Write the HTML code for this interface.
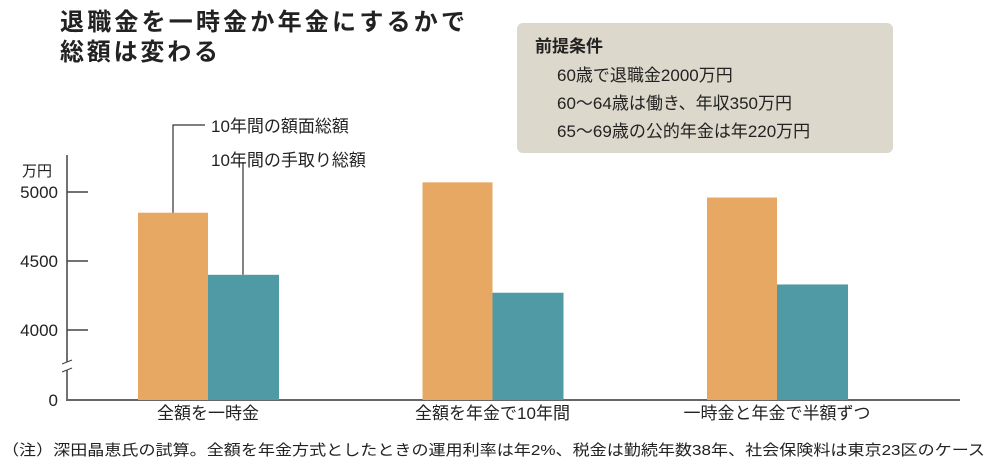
<!DOCTYPE html>
<html><head><meta charset="utf-8"><style>
html,body{margin:0;padding:0;background:#fff}
svg{display:block;font-family:"Liberation Sans","Noto Sans CJK JP",sans-serif}
</style></head><body>
<svg id="chart" width="1000" height="467" viewBox="0 0 1000 467">
<text x="60" y="30" font-size="24" font-weight="bold" fill="#222" textLength="405">退職金を一時金か年金にするかで</text>
<text x="60" y="60" font-size="24" font-weight="bold" fill="#222" textLength="158">総額は変わる</text>
<g>
<rect x="517" y="23" width="376" height="130" rx="6" fill="#ddd8cc"/>
<text x="535" y="52" font-size="17" font-weight="bold" fill="#222">前提条件</text>
<text x="557" y="81" font-size="17" fill="#222">60歳で退職金2000万円</text>
<text x="557" y="109" font-size="17" fill="#222">60～64歳は働き、年収350万円</text>
<text x="557" y="137" font-size="17" fill="#222">65～69歳の公的年金は年220万円</text>
</g>
<g id="axis"></g>
<g id="bars"></g>
<g id="legend"></g>
<text x="2" y="455" font-size="15" fill="#222" textLength="983" lengthAdjust="spacingAndGlyphs">（注）深田晶恵氏の試算。全額を年金方式としたときの運用利率は年2%、税金は勤続年数38年、社会保険料は東京23区のケース</text>
</svg>
<script>
const categories=["全額を一時金","全額を年金で10年間","一時金と年金で半額ずつ"];
const grossValues=[4850,5070,4960];
const netValues=[4400,4270,4330];
const tickLabels=[4000,4500,5000];
const seriesNames=["10年間の額面総額","10年間の手取り総額"];
const NS="http://www.w3.org/2000/svg";
function mk(tag,attrs,parent,text){const e=document.createElementNS(NS,tag);for(const k in attrs)e.setAttribute(k,attrs[k]);if(text!==undefined)e.textContent=text;parent.appendChild(e);return e;}
const y=v=>330-(v-4000)*0.138;
const xc=i=>208+i*284.5;
const ax=document.getElementById('axis'),bars=document.getElementById('bars'),lg=document.getElementById('legend');
mk('line',{x1:67,y1:155,x2:67,y2:362,stroke:'#444','stroke-width':1.5},ax);
mk('line',{x1:67,y1:370,x2:67,y2:400,stroke:'#444','stroke-width':1.5},ax);
mk('line',{x1:62,y1:364,x2:72,y2:360,stroke:'#444','stroke-width':1.2},ax);
mk('line',{x1:62,y1:372,x2:72,y2:368,stroke:'#444','stroke-width':1.2},ax);
mk('line',{x1:66,y1:400,x2:960,y2:400,stroke:'#666','stroke-width':2},ax);
const ut=mk('text',{x:22,y:176,'font-size':15,fill:'#222'},ax,'万円');


tickLabels.forEach(v=>{
  const l=mk('line',{x1:67,y1:y(v),x2:88,y2:y(v),stroke:'#444','stroke-width':1.5},ax);
  
  
  const t=mk('text',{x:58,y:y(v)+6,'font-size':17,'text-anchor':'end',fill:'#222'},ax,String(v));
  
  
});
const z=mk('text',{x:58,y:406,'font-size':17,'text-anchor':'end',fill:'#222'},ax,'0');


categories.forEach((c,i)=>{
  const cx=xc(i);
  const b1=mk('rect',{x:cx-70,y:y(grossValues[i]),width:70,height:400-y(grossValues[i]),fill:'#e6a862'},bars);
  
  
  const b2=mk('rect',{x:cx,y:y(netValues[i]),width:71,height:400-y(netValues[i]),fill:'#4f9aa5'},bars);
  
  
  const t=mk('text',{x:cx,y:419,'font-size':17,'text-anchor':'middle',fill:'#222'},bars,c);
  
  
});
const ox=xc(0)-35, tx=xc(0)+35;
mk('polyline',{points:`${ox},${y(grossValues[0])} ${ox},125 205,125`,fill:'none',stroke:'#333','stroke-width':1.2},lg);
mk('line',{x1:tx,y1:162,x2:tx,y2:y(netValues[0]),stroke:'#333','stroke-width':1.2},lg);
const l1=mk('text',{x:211,y:132,'font-size':17,fill:'#222'},lg,seriesNames[0]);


const l2=mk('text',{x:211,y:166,'font-size':17,fill:'#222'},lg,seriesNames[1]);


</script>
</body></html>
